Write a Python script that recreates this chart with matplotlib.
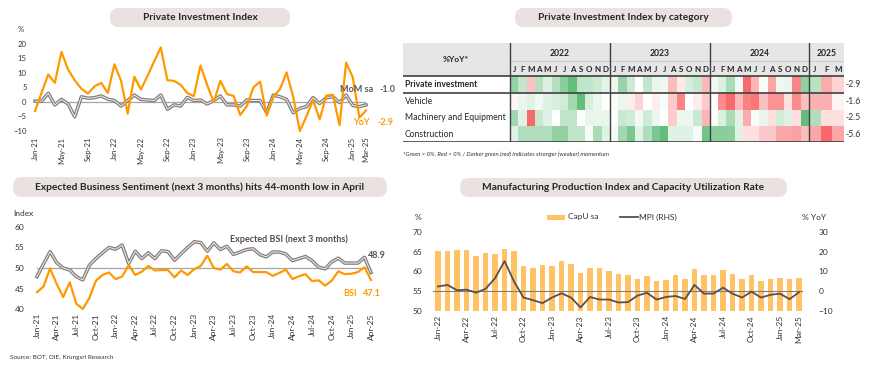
import numpy as np
import pandas as pd
import matplotlib
matplotlib.use('Agg')
import matplotlib.pyplot as plt
from matplotlib.colors import LinearSegmentedColormap, TwoSlopeNorm
from matplotlib.patches import FancyBboxPatch, Rectangle
from matplotlib.lines import Line2D

plt.rcParams['font.family'] = ['Lato', 'DejaVu Sans']

W, H = 870, 370

# ---- Private Investment Index (Jan-21 .. Mar-25)
pii_months = pd.date_range('2021-01-01', periods=51, freq='MS').strftime('%b-%y').tolist()
pii_yoy = [-3.1, 3.2, 9.5, 6.6, 17.3, 11.2, 7.5, 4.6, 2.9, 5.4, 6.6, 3.1,
           13.0, 7.3, -4.0, 8.7, 4.3, 9.0, 14.0, 18.8, 7.5, 7.3, 5.9, 3.1,
           2.0, 12.6, 5.9, 0.0, 7.3, 2.7, 2.1, -4.5, -1.4, 5.1, 7.0, -4.7,
           1.8, 4.4, 10.2, 1.8, -10.0, -5.0, 0.7, -6.0, 2.2, 2.5, -8.0, 13.6,
           8.5, -5.4, -2.9]
pii_mom = [0.3, 0.3, 3.0, -1.0, 0.9, -0.7, -5.1, 1.8, 1.3, 1.5, 2.1, 1.0,
           0.5, -1.4, 0.5, 2.4, 0.9, 0.7, 0.5, 2.4, -2.5, -1.0, -1.4, 1.6,
           0.5, 0.7, -0.7, 0.5, 2.1, -1.0, -1.0, -1.4, 0.7, 0.5, 0.5, -3.7,
           2.4, 1.8, 0.9, -3.7, -2.2, -1.6, 1.5, -0.5, 1.5, 1.8, -0.2, 2.4,
           -1.2, -1.6, -1.0]

# ---- heatmap by category (Jan-22 .. Mar-25), %YoY
hm_rows = ['Private investment', 'Vehicle', 'Machinery and Equipment', 'Construction']
hm_years = ['2022', '2023', '2024', '2025']
hm_vehicle = [-1, 2.5, 4, 2, 4, 5, 6, 12, 20, 5, 2.5, 0,
              0.5, 2.5, -2.5, -6, 0, -2.5, 1, -7.5, -17, 0, -2.5, -7.5,
              0, -16, -21, -10, -17.5, -19, -9, -15, -15, -4, -16, -9,
              -11, -11, -1.6]
hm_machinery = [6, 2, -12, 3.5, 2, 0, 4, 4, 0, 1.5, 1.5, 1.5,
                0.2, 3.5, 3, 1, 3, 1.2, 0, -4, 1.2, 1.2, 3.5, -6,
                0.2, 2.4, 5.5, 2, -6.5, 0.5, 1.5, -2.5, 3, 2, -2.5, 10,
                5, -2.5, -2.5]
hm_construction = [2, 5, 5, 5, 5, 7, 7, 4, 4, 0.4, 5.5, 2,
                   0.7, 6, 8.5, 2, 5, 8.5, 10, 2, 2, 2, 0.7, 9,
                   7.5, 7.5, 7.5, 2, -2, -2, -3.5, -3.5, -5.5, -5.5, -6, -4.2,
                   -5.5, -9.5, -5.6]

# ---- Business sentiment (Jan-21 .. Apr-25)
bsi_months = pd.date_range('2021-01-01', periods=52, freq='MS').strftime('%b-%y').tolist()
bsi_expected = [47.9, 51.0, 54.0, 51.3, 50.0, 49.5, 47.9, 47.1, 50.7, 52.3, 53.7, 55.0,
                54.6, 55.6, 51.1, 54.1, 52.3, 53.7, 52.3, 54.2, 54.0, 51.9, 53.5, 55.0,
                56.4, 56.2, 54.1, 56.1, 54.5, 55.3, 53.3, 53.9, 54.5, 54.7, 53.3, 52.7,
                53.9, 53.9, 53.4, 51.8, 52.3, 52.8, 51.8, 50.2, 49.8, 51.5, 52.4, 51.2,
                51.2, 51.2, 52.6, 48.9]
bsi = [44.1, 45.5, 49.9, 46.1, 42.9, 46.5, 41.3, 40.0, 42.7, 46.9, 48.3, 48.9,
       47.3, 47.9, 50.7, 48.3, 49.1, 50.5, 49.4, 49.5, 49.5, 47.7, 49.4, 48.3,
       49.7, 50.5, 53.0, 50.0, 49.6, 51.0, 49.2, 48.9, 50.4, 49.0, 49.0, 49.0,
       48.1, 48.8, 49.6, 47.3, 48.0, 48.5, 46.8, 47.0, 45.7, 46.9, 49.2, 48.5,
       48.6, 49.0, 50.2, 47.1]

# ---- MPI and capacity utilisation (Jan-22 .. Mar-25)
mpi_months = pd.date_range('2022-01-01', periods=39, freq='MS').strftime('%b-%y').tolist()
capu = [65.3, 65.1, 65.5, 65.5, 63.9, 64.8, 64.4, 65.8, 65.3, 61.4, 61.0, 61.6,
        61.5, 62.7, 62.0, 59.5, 60.8, 60.8, 60.2, 59.3, 59.1, 58.2, 58.9, 57.7,
        57.9, 59.2, 58.1, 60.7, 59.2, 59.1, 60.3, 59.3, 58.2, 59.1, 57.6, 58.1,
        58.3, 58.1, 58.4]
mpi = [2.4, 3.2, 0.5, 0.8, -0.7, 1.2, 6.6, 15.3, 4.9, -3.2, -4.5, -6.0,
       -3.2, -1.0, -3.2, -8.2, -2.9, -4.2, -4.2, -5.7, -5.5, -2.2, -0.8, -4.2,
       -2.9, -2.4, -3.9, 3.2, -1.2, -1.2, 1.8, -1.2, -3.2, -0.2, -3.2, -1.8,
       -1.2, -4.0, -0.5]

ORANGE = '#FF9900'
TXT = '#333333'

fig = plt.figure(figsize=(8.7, 3.7), dpi=100)


def box(x0, y0, x1, y1):
    return [x0 / W, 1 - y1 / H, (x1 - x0) / W, (y1 - y0) / H]


def ftext(x, y, s, **kw):
    kw.setdefault('va', 'center')
    fig.text(x / W, 1 - y / H, s, **kw)


def title_box(x0, y0, x1, y1, s):
    p = FancyBboxPatch((x0 / 100, (H - y1) / 100), (x1 - x0) / 100, (y1 - y0) / 100,
                       boxstyle='round,pad=0,rounding_size=0.09',
                       transform=fig.dpi_scale_trans, fc='#E9E2E0', ec='none')
    fig.add_artist(p)
    ftext((x0 + x1) / 2, (y0 + y1) / 2, s, ha='center', fontsize=7.3,
          fontweight='bold', color='#262626')


def double_line(ax, x, y):
    ax.plot(x, y, color='#857C7C', lw=2.5, clip_on=False)
    ax.plot(x, y, color='#F0F0F0', lw=0.7, clip_on=False)


def clean(ax, size):
    for s in ax.spines.values():
        s.set_visible(False)
    ax.tick_params(length=0, labelsize=size, colors=TXT)
    ax.patch.set_alpha(0)


# ================= panel 1: PII
title_box(110, 8, 290, 27, 'Private Investment Index')
ax1 = fig.add_axes(box(35, 44, 366, 131))
x1 = np.arange(len(pii_yoy))
ax1.axhline(0, color='#A6A6A6', lw=0.9)
double_line(ax1, x1, pii_mom)
ax1.plot(x1, pii_yoy, color=ORANGE, lw=1.6, clip_on=False)
ax1.set_xlim(0, len(x1) - 1)
ax1.set_ylim(-10, 20)
ax1.set_yticks(range(-10, 21, 5))
t1 = list(range(0, 49, 4)) + [50]
ax1.set_xticks(t1, [pii_months[i] for i in t1], rotation=90)
clean(ax1, 5.6)
ax1.tick_params(axis='y', pad=6)
ax1.tick_params(axis='x', pad=4)
ftext(21, 30, '%', ha='center', fontsize=5.6, color=TXT)
ftext(340, 89, 'MoM sa', fontsize=6.5, fontweight='bold', color='#595959')
ftext(379, 89, f'{pii_mom[-1]:.1f}', fontsize=6.5, fontweight='bold', color='#595959')
ftext(353, 123, 'YoY', fontsize=6.5, fontweight='bold', color=ORANGE)
ftext(377, 123, f'{pii_yoy[-1]:.1f}', fontsize=6.5, fontweight='bold', color=ORANGE)

# ================= panel 2: heatmap
title_box(515, 8, 732, 27, 'Private Investment Index by category')
ax2 = fig.add_axes(box(403, 43, 844, 142))
ax2.set_xlim(403, 844)
ax2.set_ylim(142, 43)
ax2.axis('off')
ax2.add_patch(Rectangle((403, 43), 441, 33, fc='#E7E6E6', ec='none'))
yb = [510, 610, 710, 809, 844]
ncol = [12, 12, 12, 3]
xedges = [yb[0]]
for k in range(4):
    xedges += list(np.linspace(yb[k], yb[k + 1], ncol[k] + 1)[1:])
xedges = np.array(xedges)
rows = [pii_yoy[12:], hm_vehicle, hm_machinery, hm_construction]
redges = [76, 92.5, 109.5, 126, 142]
cmap = LinearSegmentedColormap.from_list('rwg', ['#F8696B', '#FFFFFF', '#63BE7B'])
for r, vals in enumerate(rows):
    v = np.array(vals, dtype=float)
    ax2.pcolormesh(xedges, [redges[r], redges[r + 1]], v[None, :], cmap=cmap,
                   norm=TwoSlopeNorm(vmin=v.min(), vcenter=0, vmax=v.max()))
    yc = (redges[r] + redges[r + 1]) / 2
    ax2.text(405, yc, hm_rows[r], va='center', fontsize=6.2,
             fontweight='bold' if r == 0 else 'normal', color='#262626')
    ax2.text(845, yc, f'{v[-1]:.1f}', va='center', fontsize=6.2, color=TXT, clip_on=False)
for y in [76, 92.5, 142]:
    ax2.plot([403, 844], [y, y], color='#404040', lw=1.2)
ax2.plot([510, 844], [61, 61], color='#BFBFBF', lw=0.5)
for xb in yb[:-1]:
    ax2.plot([xb, xb], [43, 142], color='#404040', lw=1.0)
ax2.text(456, 59, '%YoY*', ha='center', va='center', fontsize=6, fontweight='bold', color='#262626')
letters = 'JFMAMJJASOND'
for k in range(4):
    ax2.text((yb[k] + yb[k + 1]) / 2, 53, hm_years[k], ha='center', va='center',
             fontsize=6.2, fontweight='bold', color='#262626')
ci = 0
for k in range(4):
    for m in range(ncol[k]):
        ax2.text((xedges[ci] + xedges[ci + 1]) / 2, 69.5, letters[m], ha='center',
                 va='center', fontsize=5.8, fontweight='bold', color='#262626')
        ci += 1
ftext(403, 154, '*Green > 0%, Red < 0% / Darker green (red) indicates stronger (weaker) momentum',
      fontsize=4.3, style='italic', color=TXT)

# ================= panel 3: BSI
title_box(13, 177, 387, 197, 'Expected Business Sentiment (next 3 months) hits 44-month low in April')
ax3 = fig.add_axes(box(37, 227, 371, 309))
x3 = np.arange(len(bsi))
ax3.axhline(50, color='#A6A6A6', lw=0.9)
double_line(ax3, x3, bsi_expected)
ax3.plot(x3, bsi, color=ORANGE, lw=1.6, clip_on=False)
ax3.set_xlim(0, len(x3) - 1)
ax3.set_ylim(40, 60)
ax3.set_yticks(range(40, 61, 5))
t3 = list(range(0, 52, 3))
ax3.set_xticks(t3, [bsi_months[i] for i in t3], rotation=90)
clean(ax3, 6)
ax3.tick_params(axis='y', pad=9)
ax3.tick_params(axis='x', pad=3)
ftext(13, 213, 'Index', fontsize=6, color=TXT)
ftext(230, 239, 'Expected BSI (next 3 months)', fontsize=6.5, fontweight='bold', color='#584B4B')
ftext(368, 255, f'{bsi_expected[-1]:.1f}', fontsize=6.5, fontweight='bold', color='#584B4B')
ftext(343, 293, 'BSI', fontsize=6.5, fontweight='bold', color=ORANGE)
ftext(363, 293, f'{bsi[-1]:.1f}', fontsize=6.5, fontweight='bold', color=ORANGE)
ftext(10, 358, 'Source: BOT, OIE, Krungsri Research', fontsize=4.6, color=TXT)

# ================= panel 4: MPI / CapU
title_box(460, 178, 787, 197, 'Manufacturing Production Index and Capacity Utilization Rate')
ax4 = fig.add_axes(box(433, 232, 803, 311))
x4 = np.arange(len(capu))
ax4.bar(x4, np.array(capu) - 50, bottom=50, width=0.56, color='#FFC265', zorder=1)
ax4.axhline(55, color='#7F7F7F', lw=0.8, zorder=3)
ax4.set_ylim(50, 70)
ax4.set_xlim(-0.53, 38.42)
ax4.set_yticks(range(50, 71, 5))
t4 = list(range(0, 37, 3)) + [38]
ax4.set_xticks(t4, [mpi_months[i] for i in t4], rotation=90)
clean(ax4, 6)
ax4.tick_params(axis='y', pad=8)
ax4.tick_params(axis='x', pad=3)
ax4b = ax4.twinx()
ax4b.plot(x4, mpi, color='#594F4F', lw=1.3)
ax4b.set_ylim(-10, 30)
ax4b.set_yticks(range(-10, 31, 10))
clean(ax4b, 6)
ax4b.tick_params(axis='y', pad=11)
ftext(418, 218, '%', ha='center', fontsize=6, color=TXT)
ftext(814, 218, '% YoY', ha='center', fontsize=6, color=TXT)
fig.add_artist(Rectangle((547 / W, 1 - 219.5 / H), 18 / W, 5 / H,
                         transform=fig.transFigure, fc='#FFC265', ec='none'))
ftext(568, 217, 'CapU sa', fontsize=6, color=TXT)
fig.add_artist(Line2D([620 / W, 638 / W], [1 - 217 / H] * 2, transform=fig.transFigure,
                      color='#594F4F', lw=1.3))
ftext(639, 217, 'MPI (RHS)', fontsize=6, color=TXT)

fig.savefig('out.png', dpi=100)
